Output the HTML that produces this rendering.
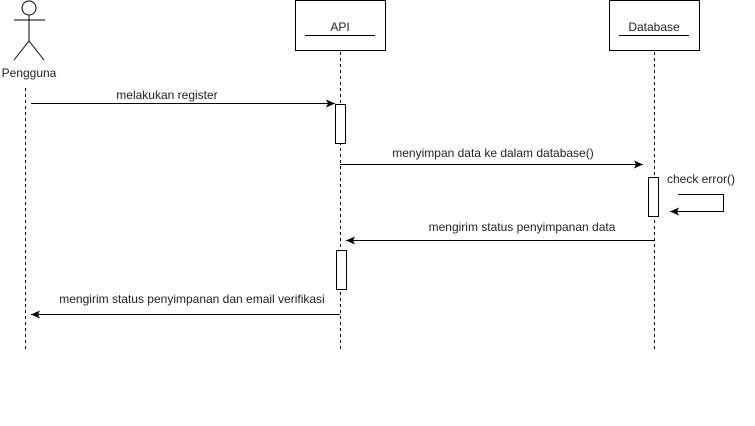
<!DOCTYPE html><html><head><style>body{margin:0;background:#fff}</style></head><body>
<svg width="755" height="421" xmlns="http://www.w3.org/2000/svg" font-family="Liberation Sans, sans-serif" font-size="12">
<defs><marker id="a" markerWidth="10" markerHeight="8" refX="9" refY="4" orient="auto" markerUnits="userSpaceOnUse"><path d="M0,0 L9,4 L0,8 L2,4 z" fill="#000"/></marker></defs>
<g stroke="#000" fill="none">
<circle cx="29" cy="8" r="7"/>
<line x1="29" y1="15" x2="29" y2="41"/><line x1="14" y1="20" x2="45" y2="20"/>
<line x1="29" y1="41" x2="14" y2="60"/><line x1="29" y1="41" x2="44" y2="60"/>
<rect x="295.5" y="0.5" width="90" height="50" fill="#fff"/>
<line x1="305" y1="35.5" x2="375" y2="35.5"/>
<rect x="609.5" y="0.5" width="90" height="50" fill="#fff"/>
<line x1="619" y1="35.5" x2="689" y2="35.5"/>
<g stroke-dasharray="3,3"><line x1="25.5" y1="88" x2="25.5" y2="350"/><line x1="340.5" y1="52" x2="340.5" y2="350"/><line x1="654.5" y1="52" x2="654.5" y2="350"/></g>
<line x1="31" y1="103.5" x2="335" y2="103.5" marker-end="url(#a)"/>
<rect x="335.5" y="104.5" width="10" height="39" fill="#fff"/>
<line x1="340" y1="164.5" x2="643" y2="164.5" marker-end="url(#a)"/>
<rect x="648.5" y="177.5" width="10" height="39" fill="#fff"/>
<polyline points="678,194.5 723.5,194.5 723.5,211.5 670,211.5" marker-end="url(#a)"/>
<line x1="654" y1="240.5" x2="346" y2="240.5" marker-end="url(#a)"/>
<rect x="336.5" y="250.5" width="10" height="39" fill="#fff"/>
<line x1="340" y1="314.5" x2="31" y2="314.5" marker-end="url(#a)"/>
</g>
<g fill="#222" text-anchor="middle">
<text x="340" y="31">API</text><text x="654" y="31">Database</text>
<text x="29" y="77">Pengguna</text>
<text x="167" y="99">melakukan register</text>
<text x="493" y="157">menyimpan data ke dalam database()</text>
<text x="701" y="183">check error()</text>
<text x="522" y="231">mengirim status penyimpanan data</text>
<text x="192" y="303">mengirim status penyimpanan dan email verifikasi</text>
</g>
</svg></body></html>
